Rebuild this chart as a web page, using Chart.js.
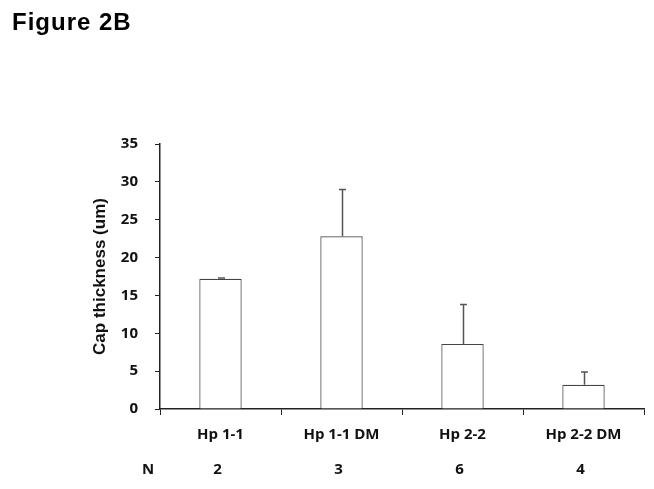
<!DOCTYPE html>
<html>
<head>
<meta charset="utf-8">
<script src="https://cdn.jsdelivr.net/npm/chart.js@4"></script>
<style>
    html, body { margin: 0; padding: 0; background: #fff; }
    #wrap { width: 654px; height: 489px; position: relative; }
</style>
</head>
<body>
<div id="wrap"><canvas id="capChart" width="654" height="489"></canvas></div>
<script>
// ---------------- Data ----------------
const groups = ['Hp 1-1', 'Hp 1-1 DM', 'Hp 2-2', 'Hp 2-2 DM'];
const capThickness = [17.2, 22.8, 8.6, 3.2];
const errorUp = [0.1, 6.2, 5.2, 1.7];
const sampleN = ['2', '3', '6', '4'];
const yTicks = [0, 5, 10, 15, 20, 25, 30, 35];

const labelFont = "'Open Sans', Lato, sans-serif";
const arialFont = "'Liberation Sans', Arial, sans-serif";

// ---------------- Error bars + N row + figure label ----------------
const extrasPlugin = {
    id: 'extras',
    afterDatasetsDraw(chart) {
        const ctx = chart.ctx;
        const x = chart.scales.x;
        const y = chart.scales.y;
        ctx.save();
        ctx.strokeStyle = '#555';
        ctx.lineWidth = 1.5;
        capThickness.forEach((v, i) => {
            const px = Math.round(x.getPixelForValue(i)) + 0.5;
            const top = y.getPixelForValue(v + errorUp[i]);
            const base = y.getPixelForValue(v);
            ctx.beginPath();
            ctx.moveTo(px, base);
            ctx.lineTo(px, top);
            ctx.moveTo(px - 3.5, top);
            ctx.lineTo(px + 3.5, top);
            ctx.stroke();
        });
        ctx.restore();
    },
    afterDraw(chart) {
        const ctx = chart.ctx;
        const x = chart.scales.x;
        ctx.save();
        ctx.fillStyle = '#111';
        ctx.textBaseline = 'middle';
        ctx.textAlign = 'center';
        ctx.font = 'bold 15px ' + labelFont;
        ctx.fillText('N', 148, 470);
        sampleN.forEach((n, i) => ctx.fillText(n, x.getPixelForValue(i) - 3, 470));

        ctx.textAlign = 'left';
        ctx.textBaseline = 'alphabetic';
        ctx.font = 'bold 24px ' + arialFont;
        ctx.letterSpacing = '1px';
        ctx.fillStyle = '#000';
        ctx.fillText('Figure 2B', 12, 30);
        ctx.restore();
    }
};

// ---------------- Chart ----------------
new Chart(document.getElementById('capChart'), {
    type: 'bar',
    data: {
        labels: groups,
        datasets: [{
            data: capThickness,
            backgroundColor: '#fff',
            borderColor: '#444',
            borderWidth: 1.2,
            barPercentage: 0.35,
            categoryPercentage: 1
        }]
    },
    options: {
        responsive: false,
        animation: false,
        layout: { padding: { left: 0, right: 10, top: 144, bottom: 0 } },
        plugins: {
            legend: { display: false },
            tooltip: { enabled: false }
        },
        scales: {
            x: {
                afterFit: s => { s.height = 80; },
                grid: { drawOnChartArea: false, tickLength: 6, color: '#222', offset: true },
                border: { color: '#222', width: 1.5 },
                ticks: {
                    color: '#111',
                    padding: 11,
                    font: { family: labelFont, size: 15, weight: 'bold' }
                }
            },
            y: {
                min: 0,
                max: 35,
                afterFit: s => { s.width = 160; },
                afterBuildTicks: s => { s.ticks = yTicks.map(v => ({ value: v })); },
                grid: { drawOnChartArea: false, tickLength: 5, color: '#222' },
                border: { color: '#222', width: 1.5 },
                ticks: {
                    color: '#111',
                    padding: 17,
                    font: { family: labelFont, size: 15, weight: 'bold' }
                },
                title: {
                    display: true,
                    text: 'Cap thickness (um)',
                    color: '#111',
                    padding: { top: 90, bottom: 0 },
                    font: { family: arialFont, size: 17, weight: 'bold' }
                }
            }
        }
    },
    plugins: [extrasPlugin]
});
</script>
</body>
</html>
